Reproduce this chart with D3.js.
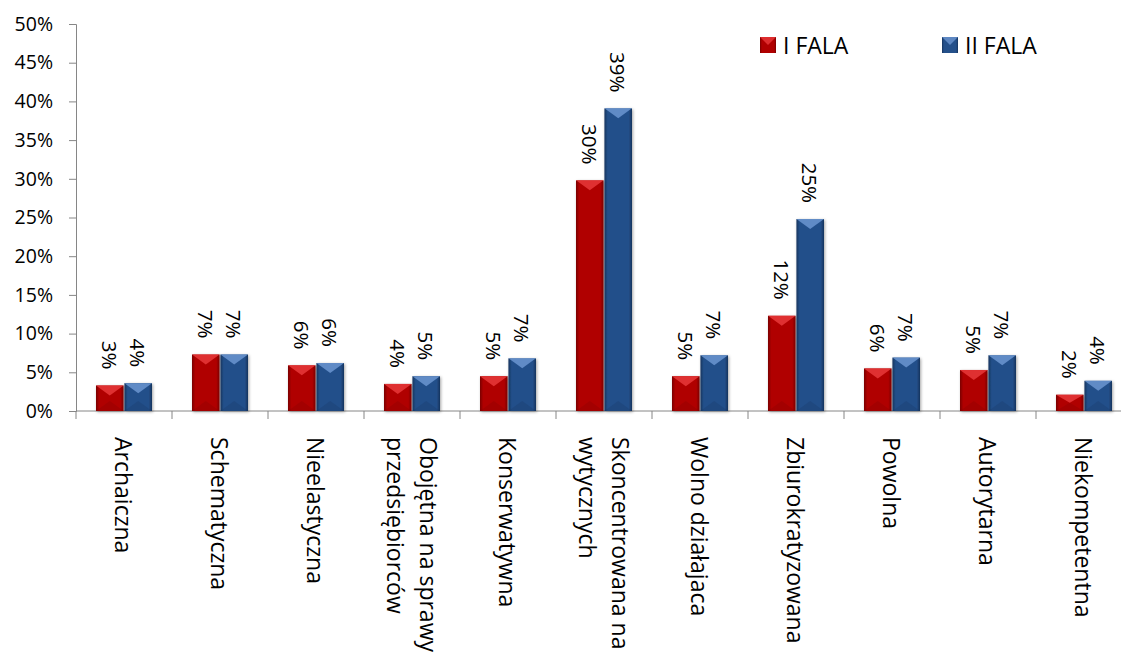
<!DOCTYPE html>
<html><head><meta charset="utf-8">
<script src="https://cdn.jsdelivr.net/npm/d3@7"></script>
<style>
body{margin:0;background:#fff;}
svg{display:block;font-family:"Open Sans",sans-serif;}
</style></head>
<body><svg id="c" width="1121" height="653"></svg>
<script>
const categories = ["Archaiczna","Schematyczna","Nieelastyczna","Obojętna na sprawy|przedsiębiorców","Konserwatywna","Skoncentrowana na|wytycznych","Wolno działajaca","Zbiurokratyzowana","Powolna","Autorytarna","Niekompetentna"];
const seriesNames = ["I FALA","II FALA"];
const fala1 = [3.3, 7.3, 5.9, 3.5, 4.5, 29.8, 4.5, 12.3, 5.5, 5.3, 2.1];
const fala2 = [3.6, 7.3, 6.2, 4.5, 6.8, 39.1, 7.2, 24.8, 6.9, 7.2, 3.9];
const yTicks = [0,5,10,15,20,25,30,35,40,45,50];

const svg = d3.select("#c");
const colors = {"I FALA":{base:"#B00000",dark:"#7A0000",light:"#E8383A"},"II FALA":{base:"#24508A",dark:"#16345E",light:"#6B95D0"}};

const x0 = d3.scaleBand().domain(categories).range([76,1132]).padding(0);
const x1 = d3.scaleBand().domain(seriesNames).range([20,76]).paddingInner(0.03);
const y = d3.scaleLinear().domain([0,50]).range([411,24]);

const defs = svg.append("defs");
seriesNames.forEach((s,i)=>{
  const c = colors[s];
  const g = defs.append("linearGradient").attr("id","g"+i).attr("x1","0").attr("x2","1").attr("y1","0").attr("y2","0");
  g.append("stop").attr("offset","0").attr("stop-color",c.dark);
  g.append("stop").attr("offset","0.12").attr("stop-color",c.base);
  g.append("stop").attr("offset","0.88").attr("stop-color",c.base);
  g.append("stop").attr("offset","1").attr("stop-color",c.dark);
});
const f = defs.append("filter").attr("id","sh").attr("x","-20%").attr("y","-20%").attr("width","140%").attr("height","140%");
f.append("feDropShadow").attr("dx",1).attr("dy",1).attr("stdDeviation",1.5).attr("flood-color","#000").attr("flood-opacity",0.35);

// axes
const yAxis = d3.axisLeft(y).tickValues(yTicks).tickFormat(d=>d+"%").tickSize(7).tickPadding(16);
const gy = svg.append("g").attr("transform","translate(76,0)").call(yAxis);
gy.select(".domain").attr("stroke","#868686");
gy.selectAll(".tick line").attr("stroke","#868686");
gy.selectAll(".tick text").attr("font-size","19.5px").attr("fill","#000").attr("font-family","Open Sans");

const gx = svg.append("g").attr("transform","translate(0,411)");
gx.append("line").attr("x1",76).attr("x2",1132).attr("stroke","#868686");
gx.selectAll("line.t").data(categories.concat(["__end"])).join("line").attr("class","t")
  .attr("x1",(d,i)=>76+i*x0.step()).attr("x2",(d,i)=>76+i*x0.step()).attr("y1",0).attr("y2",8).attr("stroke","#868686");

// bars
const data = [];
categories.forEach((c,i)=>{
  data.push({cat:c,s:"I FALA",v:fala1[i],si:0});
  data.push({cat:c,s:"II FALA",v:fala2[i],si:1});
});
const bars = svg.append("g").selectAll("g").data(data).join("g")
  .attr("transform",d=>`translate(${x0(d.cat)+x1(d.s)},0)`);
const bw = x1.bandwidth();
bars.append("rect").attr("x",0).attr("y",d=>y(d.v)).attr("width",bw).attr("height",d=>y(0)-y(d.v))
  .attr("fill",d=>`url(#g${d.si})`).attr("filter","url(#sh)");
bars.append("path").attr("d",d=>{const t=y(d.v);const h=Math.min(10,(y(0)-t)/2);return `M0,${t}L${bw},${t}L${bw/2},${t+h}Z`;})
  .attr("fill",d=>colors[d.s].light).attr("opacity",0.85);
bars.append("path").attr("d",d=>{const t=y(d.v);const b=y(0);const h=Math.min(10,(b-t)/2);return `M0,${b}L${bw},${b}L${bw/2},${b-h}Z`;})
  .attr("fill",d=>colors[d.s].dark).attr("opacity",0.25);

// value labels
bars.append("text")
  .attr("transform",d=>`translate(${bw/2},${y(d.v)-16}) rotate(90)`)
  .attr("text-anchor","end").attr("dominant-baseline","central")
  .attr("font-size","20.5px").attr("fill","#000")
  .text(d=>Math.round(d.v)+"%");

// category labels
const cl = svg.append("g").selectAll("text").data(categories).join("text")
  .attr("transform",d=>`translate(${x0(d)+x0.bandwidth()/2},437) rotate(90)`)
  .attr("font-size","23px").attr("fill","#000").attr("text-anchor","start");
cl.each(function(d){
  const lines = d.split("|");
  const t = d3.select(this);
  const off = (lines.length-1)/2;
  lines.forEach((ln,j)=>{
    t.append("tspan").attr("x",0).attr("y",(j-off)*33).attr("dominant-baseline","central").text(ln);
  });
});

// legend
const lg = svg.append("g").selectAll("g").data(seriesNames).join("g")
  .attr("transform",(d,i)=>`translate(${760+i*182},37)`);
lg.append("rect").attr("width",16).attr("height",16).attr("fill",(d,i)=>`url(#g${i})`);
lg.append("path").attr("d","M0,0L16,0L8,8Z").attr("fill",d=>colors[d].light).attr("opacity",0.8);
lg.append("text").attr("x",23).attr("y",8).attr("dominant-baseline","central").attr("font-size","23px").attr("fill","#000").text(d=>d);
</script></body></html>
